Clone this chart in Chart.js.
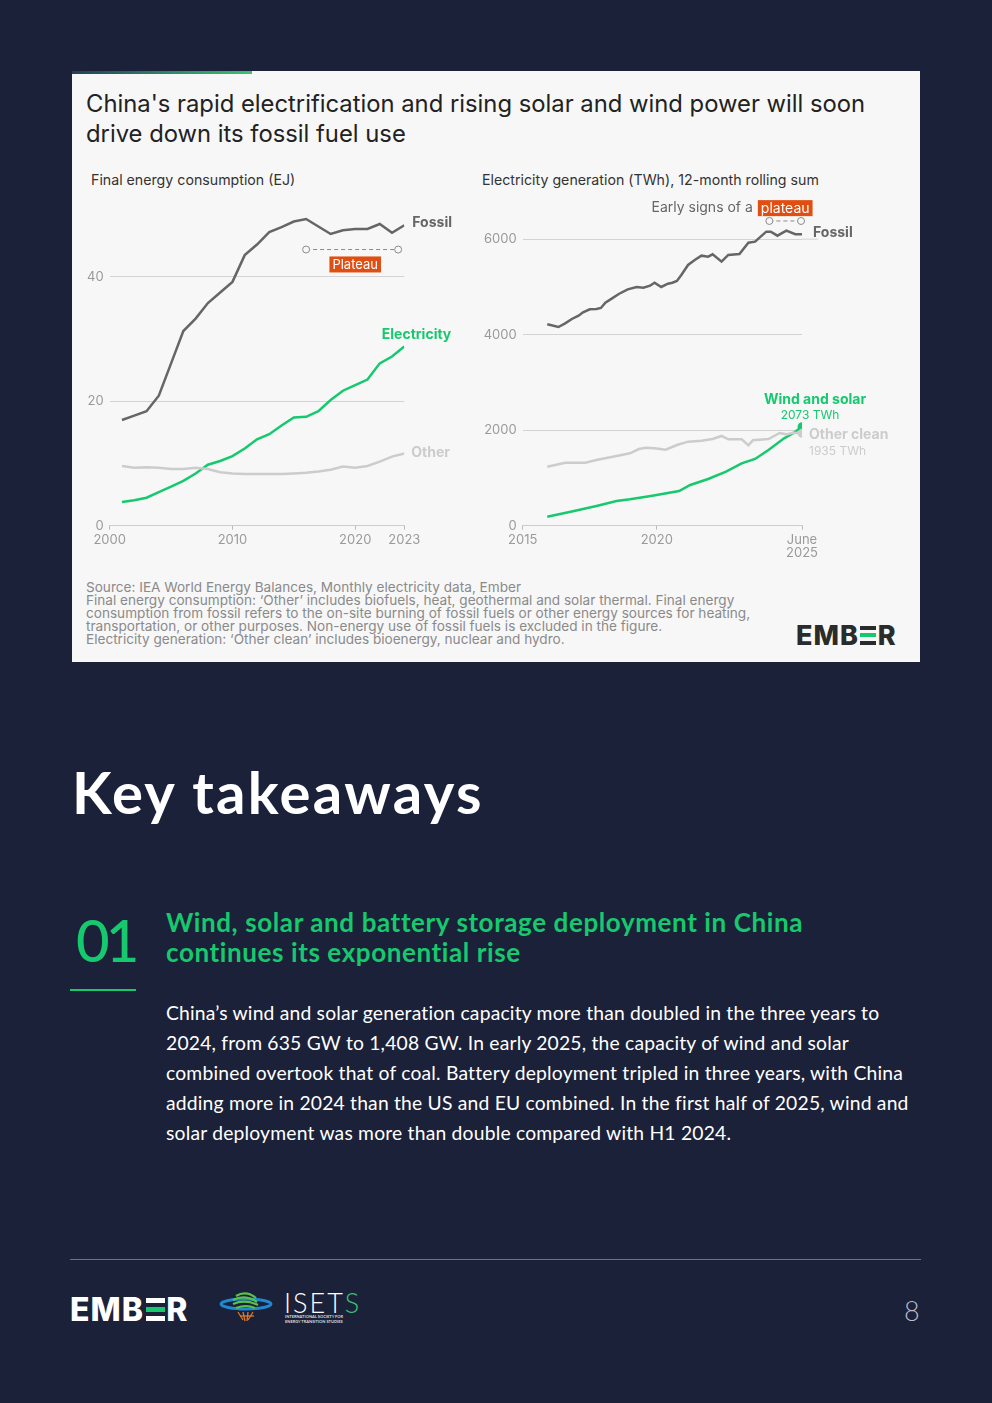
<!DOCTYPE html>
<html>
<head>
<meta charset="utf-8">
<script src="https://cdn.jsdelivr.net/npm/chart.js@4.4.1/dist/chart.umd.min.js"></script>
<style>
body{margin:0;width:992px;height:1403px;background:#1b2139;overflow:hidden;position:relative;font-family:Lato,sans-serif}
.abs{position:absolute;white-space:nowrap}
#card{left:72px;top:71px;width:848px;height:591px;background:#f7f7f7}
#bar{left:72px;top:71px;width:180px;height:3px;background:linear-gradient(90deg,#22405a,#3cc173)}
#title{left:86px;top:89px;font:23.8px Inter,sans-serif;line-height:30px;color:#222}
.sub{top:172px;font:14.2px Inter,sans-serif;line-height:16px;color:#333}
#src{left:86px;top:581px;font:13.6px Inter,sans-serif;line-height:13px;color:#8a8a8a}
canvas{position:absolute}
.logo{font-family:Inter,sans-serif;font-weight:800;letter-spacing:1px;line-height:1}
.xi{display:inline-block;width:0.6em;height:0.72em;position:relative;margin:0 0.05em}
.xi i{position:absolute;left:0;right:0;height:0.15em;background:currentColor}
.xi i:nth-child(1){top:0}
.xi i.g{top:0.285em;background:#17c96e}
.xi i:nth-child(3){bottom:0}
#kt{left:72px;top:757px;font:700 58px Lato,sans-serif;letter-spacing:2.3px;color:#fff;line-height:70px}
#num{left:76px;top:905px;font:500 58px Lato,sans-serif;color:#17c96e;letter-spacing:-4px;line-height:70px}
#head{left:166px;top:907px;font:700 26px Lato,sans-serif;letter-spacing:0.6px;color:#17c96e;line-height:30px}
#uline{left:70px;top:989px;width:66px;height:1.5px;background:#17c96e}
#para{left:166px;top:998px;font:19.3px Lato,sans-serif;letter-spacing:0.2px;color:#fff;line-height:30px}
#foot{left:70px;top:1259px;width:851px;height:1px;background:#6c7183}
#pg{left:904px;top:1294px;font:300 27px Lato,sans-serif;color:#b8bccb}
</style>
</head>
<body>
<div class="abs" id="card"></div>
<div class="abs" id="bar"></div>
<div class="abs" id="title">China's rapid electrification and rising solar and wind power will soon<br>drive down its fossil fuel use</div>
<div class="abs sub" style="left:91px">Final energy consumption (EJ)</div>
<div class="abs sub" style="left:482px">Electricity generation (TWh), 12-month rolling sum</div>
<canvas id="left" width="398" height="400" style="left:72px;top:160px"></canvas>
<canvas id="right" width="440" height="400" style="left:475px;top:160px"></canvas>
<div class="abs" id="src">Source: IEA World Energy Balances, Monthly electricity data, Ember<br>Final energy consumption: ‘Other’ includes biofuels, heat, geothermal and solar thermal. Final energy<br>consumption from fossil refers to the on-site burning of fossil fuels or other energy sources for heating,<br>transportation, or other purposes. Non-energy use of fossil fuels is excluded in the figure.<br>Electricity generation: ‘Other clean’ includes bioenergy, nuclear and hydro.</div>
<div class="abs logo" style="left:796px;top:622px;font-size:27px;color:#2b2b2b">EMB<span class="xi"><i></i><i class="g"></i><i></i></span>R</div>

<div class="abs" id="kt">Key takeaways</div>
<div class="abs" id="num">01</div>
<div class="abs" id="head">Wind, solar and battery storage deployment in China<br>continues its exponential rise</div>
<div class="abs" id="uline"></div>
<div class="abs" id="para">China’s wind and solar generation capacity more than doubled in the three years to<br>2024, from 635 GW to 1,408 GW. In early 2025, the capacity of wind and solar<br>combined overtook that of coal. Battery deployment tripled in three years, with China<br>adding more in 2024 than the US and EU combined. In the first half of 2025, wind and<br>solar deployment was more than double compared with H1 2024.</div>

<div class="abs" id="foot"></div>
<div class="abs logo" style="left:70px;top:1294px;font-size:32px;color:#fff">EMB<span class="xi"><i></i><i class="g"></i><i></i></span>R</div>
<svg class="abs" style="left:218px;top:1290px" width="56" height="36" viewBox="0 0 56 36">
  <ellipse cx="28" cy="14" rx="25" ry="5" fill="none" stroke="#1e88d0" stroke-width="3"/>
  <g stroke="#5cc14a" stroke-width="2.2" fill="none">
    <path d="M18 6 q10 -6 20 2"/><path d="M15 10 q12 -6 24 2"/><path d="M15 14 q12 -5 25 1"/><path d="M18 18 q10 -4 19 0"/>
  </g>
  <g stroke="#e0782a" stroke-width="1.3" fill="none">
    <path d="M20 22 l5 8"/><path d="M25 22 l2 9"/><path d="M30 22 l-1 9"/><path d="M35 22 l-5 8"/><path d="M22 26 h14"/>
  </g>
</svg>
<div class="abs" style="left:284px;top:1289px;font:300 27px Lato,sans-serif;color:#fff;letter-spacing:2px;line-height:27px">ISET<span style="color:#3cc173">S</span></div>
<div class="abs" style="left:285px;top:1314px;font:700 4px Lato,sans-serif;color:#ddd;line-height:5px">INTERNATIONAL SOCIETY FOR<br>ENERGY TRANSITION STUDIES</div>
<div class="abs" id="pg">8</div>

<script>
// Final energy consumption (EJ), annual
const years=[2000,2001,2002,2003,2004,2005,2006,2007,2008,2009,2010,2011,2012,2013,2014,2015,2016,2017,2018,2019,2020,2021,2022,2023];
const fossilEJ=[17.0,17.7,18.4,20.9,26.1,31.3,33.3,35.8,37.5,39.2,43.5,45.2,47.2,48.0,48.9,49.3,48.1,46.9,47.5,47.7,47.7,48.5,47.1,48.3];
const electricityEJ=[3.8,4.1,4.5,5.4,6.3,7.2,8.4,9.8,10.4,11.2,12.4,13.9,14.7,16.1,17.4,17.5,18.4,20.2,21.7,22.6,23.5,26.1,27.2,28.8];
const otherEJ=[9.6,9.3,9.4,9.3,9.1,9.1,9.3,9.1,8.6,8.4,8.3,8.3,8.3,8.3,8.4,8.5,8.7,9.0,9.5,9.3,9.6,10.3,11.1,11.6];
const leftYTicks=[0,20,40];
const leftXTicks=[2000,2010,2020,2024];        // 2024 = end of 2023
const leftXLabels=['2000','2010','2020','2023'];

// Electricity generation (TWh), 12-month rolling sum
const fossilMonths=['2015-12','2016-05','2016-08','2016-11','2017-02','2017-04','2017-07','2017-10','2017-12','2018-02','2018-05','2018-08','2018-12','2019-04','2019-07','2019-10','2019-12','2020-03','2020-06','2020-08','2020-10','2020-12','2021-03','2021-06','2021-09','2021-12','2022-02','2022-06','2022-09','2023-02','2023-06','2023-09','2024-02','2024-04','2024-07','2024-11','2025-03','2025-06'];
const fossilTWh=[4217,4161,4238,4329,4398,4469,4531,4538,4559,4670,4761,4852,4950,4999,4985,5026,5089,4999,5068,5089,5124,5250,5460,5565,5655,5634,5683,5529,5669,5690,5927,5948,6157,6157,6073,6178,6103,6103];
const cleanMonths=['2015-12','2016-08','2017-05','2017-10','2018-07','2019-01','2019-05','2019-08','2019-12','2020-05','2020-10','2021-03','2021-09','2022-02','2022-06','2022-09','2023-03','2023-06','2023-08','2024-03','2024-08','2024-11','2025-02','2025-06'];
const cleanTWh=[1236,1320,1320,1376,1460,1516,1606,1634,1620,1592,1690,1760,1781,1816,1879,1809,1809,1683,1788,1816,1941,1913,1948,1935];
const windSolarMonths=['2015-12','2016-12','2017-10','2018-07','2019-01','2019-11','2020-11','2021-04','2021-12','2022-08','2023-03','2023-09','2024-03','2024-10','2025-02','2025-06'];
const windSolarTWh=[189,308,413,517,552,628,727,852,978,1131,1306,1397,1585,1830,1935,2073];
const rightYTicks=[0,2000,4000,6000];
const rightXTicks=[2015,2020,2025+5/12];
const rightXLabels=['2015','2020',['June','2025']];

const GREEN='#17c96e', DARK='#666666', LIGHT='#cccccc', ORANGE='#e04e12';
Chart.defaults.font.family='Inter, sans-serif';
Chart.defaults.animation=false;

function toYear(m){const p=m.split('-').map(Number);return p[0]+(p[1]-1)/12;}
function pts(xs,ys){return xs.map((x,i)=>({x:x,y:ys[i]}));}

function tag(ctx,text,cx,cy,size){
  ctx.font=size+'px Inter, sans-serif';
  const w=ctx.measureText(text).width;
  ctx.fillStyle=ORANGE;ctx.fillRect(cx-w/2-3,cy-8,w+6,16);
  ctx.fillStyle='#fff';ctx.textAlign='center';ctx.textBaseline='middle';
  ctx.fillText(text,cx,cy+0.5);
  return cx-w/2-3;
}
function plateau(ctx,x1,x2,y){
  ctx.save();
  ctx.strokeStyle='#8a8a8a';ctx.lineWidth=1;ctx.setLineDash([4,3]);
  ctx.beginPath();ctx.moveTo(x1,y);ctx.lineTo(x2,y);ctx.stroke();
  ctx.setLineDash([]);
  [x1,x2].forEach(x=>{ctx.beginPath();ctx.arc(x,y,3.5,0,Math.PI*2);ctx.fillStyle='#f7f7f7';ctx.fill();ctx.stroke();});
  ctx.restore();
}
function label(ctx,text,x,y,font,color,align){
  ctx.font=font;ctx.fillStyle=color;ctx.textAlign=align||'left';ctx.textBaseline='middle';
  ctx.fillText(text,x,y);
}

function lineSet(data,color,width){
  return {data:data,borderColor:color,backgroundColor:color,borderWidth:width,pointRadius:0,tension:0};
}

function axes(xmin,xmax,xticks,xlabels,ymax,yticks,ywidth){
  return {
    x:{type:'linear',min:xmin,max:xmax,
      afterBuildTicks:s=>{s.ticks=xticks.map(v=>({value:v}));},
      afterFit:s=>{s.height=34.3;},
      ticks:{color:'#9a9a9a',font:{size:13,lineHeight:1},padding:4,maxRotation:0,autoSkip:false,
        callback:(v,i)=>xlabels[i]},
      grid:{drawOnChartArea:false,drawTicks:true,tickLength:4,color:'#bbbbbb'},
      border:{display:true,color:'#cccccc'}},
    y:{min:0,max:ymax,
      afterBuildTicks:s=>{s.ticks=yticks.map(v=>({value:v}));},
      afterFit:s=>{s.width=ywidth;},
      ticks:{color:'#9a9a9a',font:{size:13},padding:6,callback:v=>String(v)},
      grid:{color:'#d3d3d3',drawTicks:false},
      border:{display:false}}
  };
}

// left chart: annual values plotted at the end of each year
const yearEnd=years.map(y=>y+1);
new Chart(document.getElementById('left'),{
  type:'line',
  data:{datasets:[
    lineSet(pts(yearEnd,otherEJ),LIGHT,2.5),
    lineSet(pts(yearEnd,electricityEJ),GREEN,2.5),
    lineSet(pts(yearEnd,fossilEJ),DARK,2.5)
  ]},
  options:{responsive:false,layout:{padding:{top:54.7,right:65.7,left:0,bottom:0}},
    plugins:{legend:{display:false},tooltip:{enabled:false}},
    scales:axes(2000,2024,leftXTicks,leftXLabels,50,leftYTicks,37.7)},
  plugins:[{id:'notes',afterDatasetsDraw(c){
    const ctx=c.ctx,x=c.scales.x,y=c.scales.y,n=years.length-1,xe=x.getPixelForValue(yearEnd[n]);
    ctx.save();
    label(ctx,'Fossil',xe+8,y.getPixelForValue(fossilEJ[n])-2,'bold 14px Inter, sans-serif',DARK);
    label(ctx,'Electricity',xe+47,y.getPixelForValue(electricityEJ[n])-12,'bold 14px Inter, sans-serif',GREEN,'right');
    label(ctx,'Other',xe+7,y.getPixelForValue(otherEJ[n])-1,'bold 14px Inter, sans-serif',LIGHT);
    plateau(ctx,x.getPixelForValue(2016),x.getPixelForValue(2023.5),y.getPixelForValue(44.4));
    tag(ctx,'Plateau',x.getPixelForValue(2020),y.getPixelForValue(42.0),13);
    ctx.restore();
  }}]
});

// right chart
const fsPts=pts(fossilMonths.map(toYear),fossilTWh);
const clPts=pts(cleanMonths.map(toYear),cleanTWh);
const wsPts=pts(windSolarMonths.map(toYear),windSolarTWh);
const endDot=(n)=>(c=>c.dataIndex===n-1?3.2:0);
const cl=lineSet(clPts,LIGHT,2.5);cl.pointRadius=endDot(clPts.length);
const ws=lineSet(wsPts,GREEN,2.5);ws.pointRadius=endDot(wsPts.length);
new Chart(document.getElementById('right'),{
  type:'line',
  data:{datasets:[cl,ws,lineSet(fsPts,DARK,2.5)]},
  options:{responsive:false,layout:{padding:{top:55.3,right:113,left:0,bottom:0}},
    plugins:{legend:{display:false},tooltip:{enabled:false}},
    scales:axes(2015,2025+5/12,rightXTicks,rightXLabels,6500,rightYTicks,47.7)},
  plugins:[{id:'notes',afterDatasetsDraw(c){
    const ctx=c.ctx,x=c.scales.x,y=c.scales.y,a=c.chartArea;
    const xe=x.getPixelForValue(wsPts[wsPts.length-1].x);
    ctx.save();
    ctx.strokeStyle='#d3d3d3';ctx.lineWidth=1;ctx.beginPath();
    ctx.moveTo(a.right,y.getPixelForValue(6000));ctx.lineTo(a.right+16,y.getPixelForValue(6000));ctx.stroke();
    label(ctx,'Fossil',xe+11,y.getPixelForValue(fossilTWh[fossilTWh.length-1])-1,'bold 14px Inter, sans-serif',DARK);
    const ws1=windSolarTWh[windSolarTWh.length-1],cl1=cleanTWh[cleanTWh.length-1];
    label(ctx,'Wind and solar',xe+13,y.getPixelForValue(ws1)-27,'bold 14px Inter, sans-serif',GREEN,'center');
    label(ctx,ws1+' TWh',xe+8,y.getPixelForValue(ws1)-11,'12px Inter, sans-serif',GREEN,'center');
    label(ctx,'Other clean',xe+7,y.getPixelForValue(cl1)+2,'bold 14px Inter, sans-serif',LIGHT);
    label(ctx,cl1+' TWh',xe+7,y.getPixelForValue(cl1)+18,'12px Inter, sans-serif',LIGHT);
    plateau(ctx,x.getPixelForValue(2024.2),x.getPixelForValue(2025.38),y.getPixelForValue(6381));
    const left=tag(ctx,'plateau',x.getPixelForValue(2024.79),y.getPixelForValue(6650),14);
    label(ctx,'Early signs of a',left-5,y.getPixelForValue(6650),'14px Inter, sans-serif',DARK,'right');
    ctx.restore();
  }}]
});
</script>
</body>
</html>
